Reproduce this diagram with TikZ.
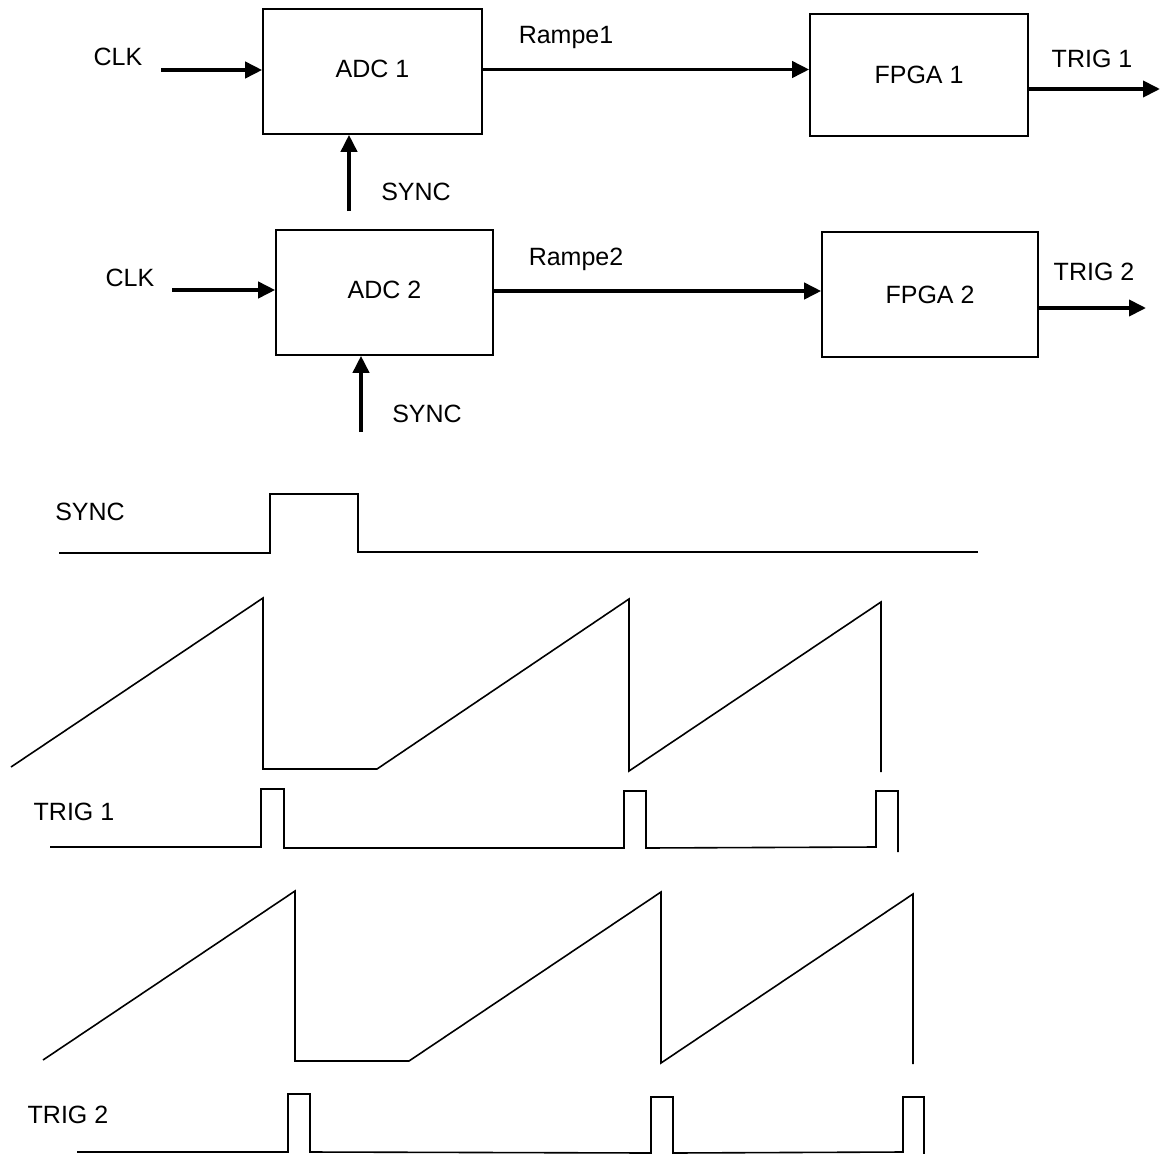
\documentclass[tikz,border=0pt]{standalone}
\usepackage{fontspec}
\setmainfont{Liberation Sans}
\usetikzlibrary{arrows.meta}

\tikzset{
    blockbox/.style={draw, line width=1.6pt, inner sep=0pt, font=\fontsize{25}{29}\selectfont},
    sigarrow/.style={line width=3.8pt, -{Triangle[length=17pt,width=16pt]}},
    wave/.style={line width=1.6pt, line join=miter},
    lbl/.style={inner sep=0pt, font=\fontsize{25}{29}\selectfont}
}

\begin{document}
\begin{tikzpicture}[x=1pt, y=-1pt]
    \useasboundingbox (0,0) rectangle (1173,1154);

    % Blocks
    \node[blockbox, minimum width=219pt, minimum height=125pt, text depth=6pt] (adc1) at (372.5,71.5) {ADC 1};
    \node[blockbox, minimum width=217pt, minimum height=125pt, text depth=6pt] (adc2) at (384.5,292.5) {ADC 2};
    \node[blockbox, minimum width=218pt, minimum height=122pt] (fpga1) at (919,75) {FPGA 1};
    \node[blockbox, minimum width=216pt, minimum height=125pt] (fpga2) at (930,294.5) {FPGA 2};

    % Free ends of the inputs / outputs
    \coordinate (clk1) at (161,70);
    \coordinate (clk2) at (172,290);
    \coordinate (sync1) at (349,211);
    \coordinate (sync2) at (361,432);
    \coordinate (trig1) at (1160,89);
    \coordinate (trig2) at (1146,308);

    % Connections
    \draw[sigarrow] (clk1) -- (clk1 -| adc1.west);
    \draw[sigarrow] (clk2) -- (clk2 -| adc2.west);
    \draw[sigarrow] (sync1) -- (sync1 |- adc1.south);
    \draw[sigarrow] (sync2) -- (sync2 |- adc2.south);
    \draw[sigarrow] ([yshift=2pt]adc1.east) -- ([yshift=2pt]adc1.east -| fpga1.west);
    \draw[sigarrow] ([yshift=1.5pt]adc2.east) -- ([yshift=1.5pt]adc2.east -| fpga2.west);
    \draw[sigarrow] (trig1 -| fpga1.east) -- (trig1);
    \draw[sigarrow] (trig2 -| fpga2.east) -- (trig2);

    % Labels of the block diagram
    \node[lbl] (lclk1) at (118,57) {CLK};
    \node[lbl] (lclk2) at (130,278) {CLK};
    \node[lbl] (lsync1) at (416,192) {SYNC};
    \node[lbl] (lsync2) at (427,414) {SYNC};
    \node[lbl] (lramp1) at (566,37) {Rampe1};
    \node[lbl] (lramp2) at (576,259) {Rampe2};
    \node[lbl] (ltrig1) at (1092,59) {TRIG 1};
    \node[lbl] (ltrig2) at (1094,272) {TRIG 2};

    % Timing diagram
    \node[lbl] (wsync) at (90,512) {SYNC};
    \node[lbl] (wtrig1) at (74,812) {TRIG 1};
    \node[lbl] (wtrig2) at (68,1115) {TRIG 2};

    % SYNC pulse
    \draw[wave] (59,553) -- (270,553) -- (270,494) -- (358,494) -- (358,552) -- (978,552);

    % Rampe1
    \draw[wave] (11,767) -- (263,598) -- (263,769) -- (377,769) -- (629,599) -- (629,771)
        -- (881,602) -- (881,772);

    % TRIG 1
    \draw[wave] (50,847) -- (261,847) -- (261,789) -- (284,789) -- (284,848) -- (624,848)
        -- (624,791) -- (646,791) -- (646,848) -- (876,847) -- (876,791) -- (898,791) -- (898,852);

    % Rampe2
    \draw[wave] (43,1060) -- (295,891) -- (295,1061) -- (409,1061) -- (661,892) -- (661,1063)
        -- (913,894) -- (913,1064);

    % TRIG 2
    \draw[wave] (77,1152) -- (288,1152) -- (288,1094) -- (310,1094) -- (310,1152) -- (651,1153)
        -- (651,1097) -- (673,1097) -- (673,1153) -- (903,1152) -- (903,1097) -- (924,1097) -- (924,1154);
\end{tikzpicture}
\end{document}
